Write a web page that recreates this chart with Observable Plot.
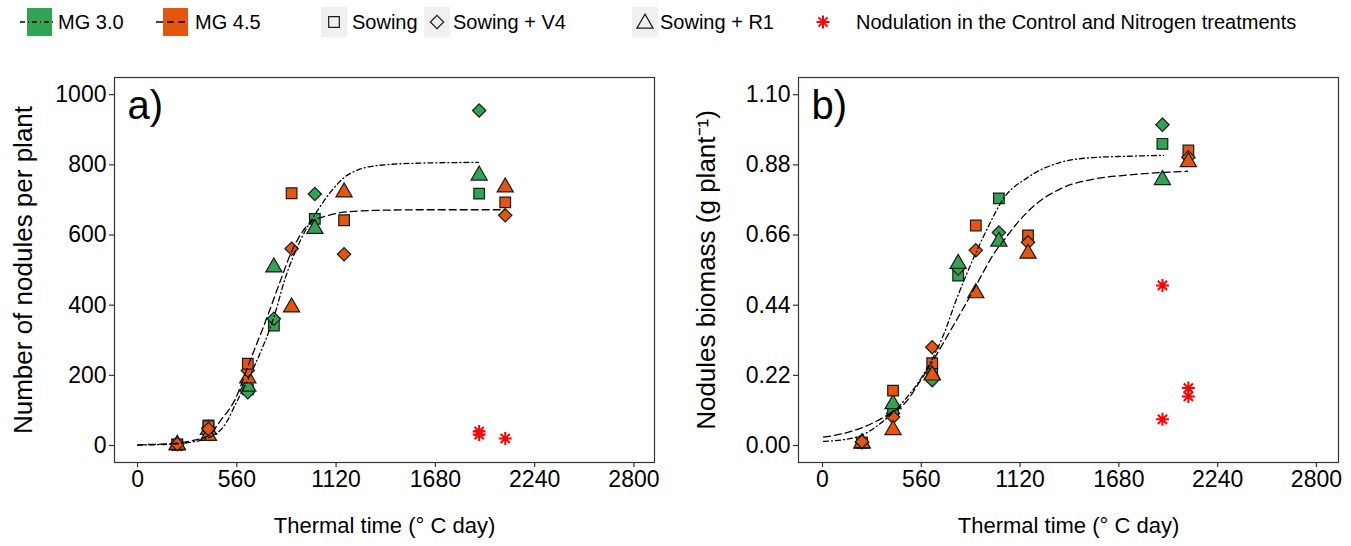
<!DOCTYPE html>
<html><head><meta charset="utf-8">
<script src="https://cdn.jsdelivr.net/npm/d3@7"></script>
<script src="https://cdn.jsdelivr.net/npm/@observablehq/plot@0.6"></script>
<style>
body{margin:0;background:#fff;font-family:"Liberation Sans",Arial,sans-serif;}
#root{position:relative;width:1351px;height:546px;overflow:hidden;background:#fff}
.panel{position:absolute;top:0}
#legend{position:absolute;left:0;top:0}
</style></head><body>
<div id="root"><div id="pa" class="panel" style="left:0px;width:680px"></div><div id="pb" class="panel" style="left:680px;width:671px"></div><svg id="legend" width="1351" height="46"></svg></div>
<script>
// ---------- data ----------
const maturityGroups = ["MG 3.0", "MG 4.5"];
const groupColors = ["#31a354", "#e6550d"];
const groupDash = ["5,3,1,3", "7,4"];
const stages = ["Sowing", "Sowing + V4", "Sowing + R1"];
const stageSymbols = ["square", "diamond2", "triangle"];
const controlLabel = "Nodulation in the Control and Nitrogen treatments";
const xTicks = [0, 560, 1120, 1680, 2240, 2800];
const yTicksA = [0, 200, 400, 600, 800, 1000];
const yTicksB = [0, 0.22, 0.44, 0.66, 0.88, 1.10];
const xTitle = "Thermal time (° C day)";
const yTitleA = "Number of nodules per plant";
const yTitleB = "Nodules biomass (g plant⁻¹)";

// [thermal time, maturity group, stage, value]
const nodulesNumber = [
  [224,"MG 3.0","Sowing",2],[224,"MG 3.0","Sowing + R1",1],[224,"MG 3.0","Sowing + V4",4],
  [224,"MG 4.5","Sowing",3],[224,"MG 4.5","Sowing + R1",2],[224,"MG 4.5","Sowing + V4",4],
  [400,"MG 3.0","Sowing",57],[400,"MG 3.0","Sowing + V4",50],[400,"MG 3.0","Sowing + R1",45],
  [400,"MG 4.5","Sowing + R1",28],[400,"MG 4.5","Sowing",55],[400,"MG 4.5","Sowing + V4",47],
  [622,"MG 3.0","Sowing",160],[622,"MG 3.0","Sowing + V4",152],[622,"MG 3.0","Sowing + R1",168],
  [622,"MG 4.5","Sowing + R1",192],[622,"MG 4.5","Sowing + V4",214],[622,"MG 4.5","Sowing",233],
  [769,"MG 3.0","Sowing",342],[769,"MG 3.0","Sowing + V4",361],[769,"MG 3.0","Sowing + R1",508],
  [869,"MG 4.5","Sowing",719],[869,"MG 4.5","Sowing + V4",561],[869,"MG 4.5","Sowing + R1",394],
  [1000,"MG 3.0","Sowing",646],[1000,"MG 3.0","Sowing + V4",717],[1000,"MG 3.0","Sowing + R1",618],
  [1165,"MG 4.5","Sowing",642],[1165,"MG 4.5","Sowing + V4",545],[1165,"MG 4.5","Sowing + R1",722],
  [1927,"MG 3.0","Sowing",718],[1927,"MG 3.0","Sowing + V4",955],[1927,"MG 3.0","Sowing + R1",770],
  [2074,"MG 4.5","Sowing",693],[2074,"MG 4.5","Sowing + V4",656],[2074,"MG 4.5","Sowing + R1",736]
];
const nodulesBiomass = [
  [224,"MG 3.0","Sowing",0.008],[224,"MG 3.0","Sowing + R1",0.006],[224,"MG 3.0","Sowing + V4",0.010],
  [224,"MG 4.5","Sowing",0.010],[224,"MG 4.5","Sowing + R1",0.008],[224,"MG 4.5","Sowing + V4",0.012],
  [400,"MG 3.0","Sowing + V4",0.100],[400,"MG 3.0","Sowing",0.112],[400,"MG 3.0","Sowing + R1",0.130],
  [400,"MG 4.5","Sowing",0.172],[400,"MG 4.5","Sowing + V4",0.089],[400,"MG 4.5","Sowing + R1",0.049],
  [622,"MG 3.0","Sowing",0.228],[622,"MG 3.0","Sowing + V4",0.205],[622,"MG 3.0","Sowing + R1",0.222],
  [622,"MG 4.5","Sowing",0.258],[622,"MG 4.5","Sowing + R1",0.220],[622,"MG 4.5","Sowing + V4",0.308],
  [769,"MG 3.0","Sowing",0.533],[769,"MG 3.0","Sowing + V4",0.555],[769,"MG 3.0","Sowing + R1",0.570],
  [869,"MG 4.5","Sowing",0.690],[869,"MG 4.5","Sowing + V4",0.612],[869,"MG 4.5","Sowing + R1",0.478],
  [1000,"MG 3.0","Sowing",0.775],[1000,"MG 3.0","Sowing + V4",0.668],[1000,"MG 3.0","Sowing + R1",0.640],
  [1165,"MG 4.5","Sowing",0.659],[1165,"MG 4.5","Sowing + V4",0.637],[1165,"MG 4.5","Sowing + R1",0.602],
  [1927,"MG 3.0","Sowing",0.946],[1927,"MG 3.0","Sowing + V4",1.006],[1927,"MG 3.0","Sowing + R1",0.833],
  [2074,"MG 4.5","Sowing",0.925],[2074,"MG 4.5","Sowing + V4",0.904],[2074,"MG 4.5","Sowing + R1",0.889]
];
// Control and Nitrogen treatments [thermal time, value]
const controlNumber = [[1927,40],[1927,31],[2074,20]];
const controlBiomass = [[1927,0.502],[2074,0.180],[2074,0.154],[1927,0.082]];

// fitted curves [thermal time, value]
const fitNumber30 = [[0,1],[224,5],[400,22],[500,65],[553,118],[620,185],[665,233],[769,366],[835,480],[919,585],[1013,668],[1088,722],[1182,770],[1352,798],[1600,805],[1923,807]];
const fitNumber45 = [[0,2],[224,7],[300,13],[400,28],[468,71],[553,134],[628,233],[731,366],[806,470],[872,556],[976,636],[1070,655],[1163,665],[1332,670],[1600,672],[2070,672]];
const fitBiomass30 = [[6,0.013],[178,0.024],[348,0.078],[480,0.152],[537,0.193],[688,0.350],[764,0.465],[858,0.590],[934,0.680],[1027,0.775],[1162,0.840],[1349,0.888],[1536,0.903],[1729,0.907],[1933,0.910]];
const fitBiomass45 = [[6,0.026],[178,0.047],[348,0.089],[480,0.141],[556,0.204],[650,0.288],[726,0.361],[802,0.434],[896,0.528],[971,0.601],[1030,0.645],[1100,0.695],[1196,0.750],[1349,0.805],[1536,0.835],[1729,0.848],[2069,0.860]];

// ---------- drawing ----------
const FONT = "Liberation Sans, Arial, sans-serif";
const TICK_FS = 23, XT_FS = 22, YT_FS = 26, TAG_FS = 40, LEG_FS = 20;
const star8 = {draw(ctx, size) {
  const r = Math.sqrt(size / Math.PI);
  for (let i = 0; i < 4; i++) {
    const a = i * Math.PI / 4;
    ctx.moveTo(r * Math.cos(a), r * Math.sin(a));
    ctx.lineTo(-r * Math.cos(a), -r * Math.sin(a));
  }
}};

function panel({width, marginLeft, marginRight, xDomain, yDomain, yTicks, yFormat, points, control, fit30, fit45, yTitle, tag, yTitleX}) {
  const marginTop = 77, marginBottom = 84, height = 546;
  return Plot.plot({
    width, height, marginLeft, marginRight, marginTop, marginBottom,
    style: {fontFamily: FONT, fontSize: TICK_FS + "px", background: "transparent", color: "#000", overflow: "visible"},
    x: {domain: xDomain},
    y: {domain: yDomain},
    color: {domain: maturityGroups, range: groupColors},
    symbol: {domain: stages, range: stageSymbols},
    marks: [
      Plot.frame({stroke: "#333", strokeWidth: 1.2}),
      Plot.axisX({ticks: xTicks, tickFormat: d3.format("d"), tickSize: 5, tickPadding: 3, stroke: "#333", strokeWidth: 1.2, fill: "#000", fontSize: TICK_FS, label: null}),
      Plot.axisY({ticks: yTicks, tickFormat: yFormat, tickSize: 5, tickPadding: 3, stroke: "#333", strokeWidth: 1.2, fill: "#000", fontSize: TICK_FS, label: null}),
      Plot.dot(points, {x: d => d[0], y: d => d[3], fill: d => d[1], symbol: d => d[2], r: 6, stroke: "#1a1a1a", strokeWidth: 1.2}),
      Plot.dot(control, {x: d => d[0], y: d => d[1], symbol: star8, r: 6.5, stroke: "#ff0000", strokeWidth: 2, fill: "none"}),
      Plot.line(fit30, {x: d => d[0], y: d => d[1], curve: "monotone-x", stroke: "#000", strokeWidth: 1.3, strokeDasharray: groupDash[0]}),
      Plot.line(fit45, {x: d => d[0], y: d => d[1], curve: "monotone-x", stroke: "#000", strokeWidth: 1.3, strokeDasharray: groupDash[1]}),
      Plot.text([tag], {frameAnchor: "top-left", dx: 13, dy: 29, textAnchor: "start", lineAnchor: "middle", fontSize: TAG_FS, fill: "#000"}),
      Plot.text([xTitle], {frameAnchor: "bottom", dy: 63, lineAnchor: "middle", fontSize: XT_FS, fill: "#000"}),
      Plot.text([yTitle], {frameAnchor: "left", dx: -(marginLeft - yTitleX), rotate: -90, lineAnchor: "middle", textAnchor: "middle", fontSize: YT_FS, fill: "#000"})
    ]
  });
}

document.getElementById("pa").append(panel({
  width: 680, marginLeft: 114, marginRight: 26, xDomain: [-130, 2916], yDomain: [-48.5, 1049],
  yTicks: yTicksA, yFormat: d3.format("d"), points: nodulesNumber, control: controlNumber,
  fit30: fitNumber30, fit45: fitNumber45, yTitle: yTitleA, tag: "a)", yTitleX: 23
}));
document.getElementById("pb").append(panel({
  width: 671, marginLeft: 118, marginRight: 13, xDomain: [-136, 2925], yDomain: [-0.0533, 1.154],
  yTicks: yTicksB, yFormat: d3.format(".2f"), points: nodulesBiomass, control: controlBiomass,
  fit30: fitBiomass30, fit45: fitBiomass45, yTitle: yTitleB, tag: "b)", yTitleX: 26
}));

// ---------- legend ----------
const svg = d3.select("#legend").style("font-family", FONT);
const cy = 22, fs = LEG_FS;
const sym = name => d3.symbol(name === "square" ? d3.symbolSquare : name === "diamond2" ? d3.symbolDiamond2 : d3.symbolTriangle, Math.PI * 36)();
// maturity groups
[[27, 58], [163, 195]].forEach(([bx, tx], i) => {
  svg.append("rect").attr("x", bx).attr("y", cy - 14).attr("width", 25).attr("height", 28).attr("fill", groupColors[i]);
  svg.append("line").attr("x1", bx - 7).attr("x2", bx + 26).attr("y1", cy).attr("y2", cy).attr("stroke", "#000").attr("stroke-width", 1.3).attr("stroke-dasharray", groupDash[i]);
  svg.append("text").attr("x", tx).attr("y", cy).attr("dy", "0.35em").attr("font-size", fs).text(maturityGroups[i]);
});
// stages
[[321, 352], [424, 453], [632, 660]].forEach(([bx, tx], i) => {
  svg.append("rect").attr("x", bx).attr("y", cy - 15).attr("width", 26).attr("height", 30).attr("fill", "#f0f0f0");
  svg.append("path").attr("d", sym(stageSymbols[i])).attr("transform", `translate(${bx + 13},${cy + (i === 2 ? 1.5 : 0)})`).attr("fill", "none").attr("stroke", "#1a1a1a").attr("stroke-width", 1.2);
  svg.append("text").attr("x", tx).attr("y", cy).attr("dy", "0.35em").attr("font-size", fs).text(stages[i]);
});
// control
svg.append("path").attr("d", d3.symbol(star8, Math.PI * 42)()).attr("transform", `translate(823,${cy})`).attr("fill", "none").attr("stroke", "#ff0000").attr("stroke-width", 2);
svg.append("text").attr("x", 856).attr("y", cy).attr("dy", "0.35em").attr("font-size", fs).text(controlLabel);
</script>
</body></html>
